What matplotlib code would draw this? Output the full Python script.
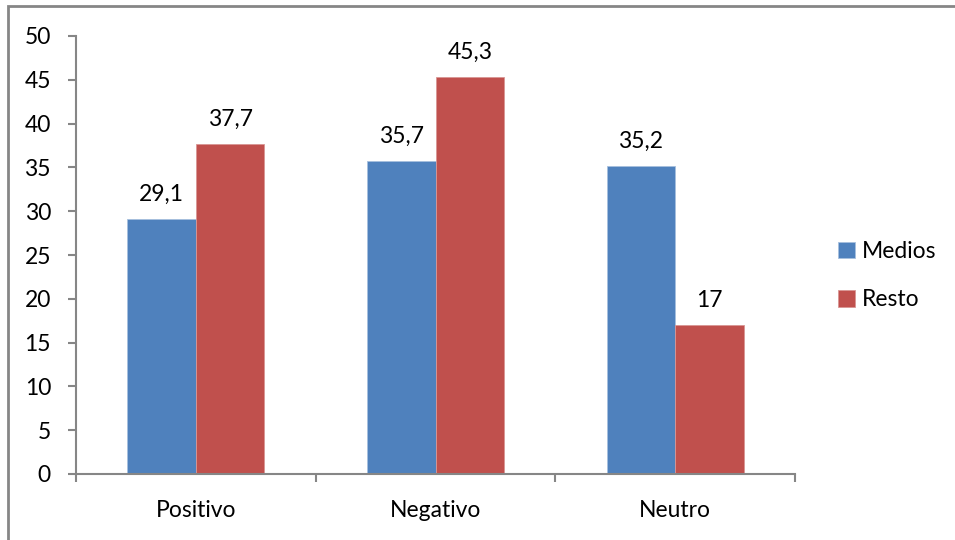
import matplotlib
matplotlib.use("Agg")
import matplotlib.pyplot as plt
from matplotlib.patches import Rectangle
import numpy as np

categories = ["Positivo", "Negativo", "Neutro"]
medios = [29.1, 35.7, 35.2]
resto = [37.7, 45.3, 17]
series_names = ["Medios", "Resto"]
colors = ["#4F81BD", "#C0504D"]
yticks = [0, 5, 10, 15, 20, 25, 30, 35, 40, 45, 50]

plt.rcParams["font.family"] = ["Lato", "DejaVu Sans"]
FS = 16.5

fig = plt.figure(figsize=(9.55, 5.4), dpi=100)
ax = fig.add_axes([76 / 955, 1 - 474 / 540, (795 - 76) / 955, (474 - 36) / 540])

# outer chart frame
fig.patches.append(Rectangle((8 / 955, -0.05), 1.1, 1 - 6 / 540 + 0.05,
                             transform=fig.transFigure, fill=False,
                             edgecolor="#868686", linewidth=2))

x = np.arange(len(categories))
w = 1 / 3.5
b1 = ax.bar(x - w / 2, medios, w, color=colors[0], label=series_names[0],
            edgecolor="#A7C0DE", linewidth=0.6)
b2 = ax.bar(x + w / 2, resto, w, color=colors[1], label=series_names[1],
            edgecolor="#D99694", linewidth=0.6)

def fmt(v):
    s = f"{v:g}"
    return s.replace(".", ",")

for bars, vals in ((b1, medios), (b2, resto)):
    for r, v in zip(bars, vals):
        ax.annotate(fmt(v), (r.get_x() + r.get_width() / 2, v),
                    xytext=(0, 13), textcoords="offset points",
                    ha="center", va="baseline", fontsize=FS)

ax.set_xlim(-0.5, 2.5)
ax.set_ylim(0, 50)
ax.set_yticks(yticks)
ax.set_yticklabels([str(t) for t in yticks], fontsize=FS)
ax.set_xticks(x)
ax.set_xticklabels(categories, fontsize=FS)
ax.set_xticks([-0.5, 0.5, 1.5, 2.5], minor=True)
ax.tick_params(axis="x", which="major", length=0, pad=19)
ax.tick_params(axis="x", which="minor", length=6, color="#868686", width=1.5)
ax.tick_params(axis="y", length=6, color="#868686", width=1.5, pad=12)

for s in ("top", "right"):
    ax.spines[s].set_visible(False)
for s in ("left", "bottom"):
    ax.spines[s].set_color("#868686")
    ax.spines[s].set_linewidth(1.5)

fig.legend(handles=[b1, b2], labels=series_names, loc="upper left",
           bbox_to_anchor=(838 / 955, 1 - 241 / 540), frameon=False,
           borderpad=0, borderaxespad=0,
           fontsize=FS, handlelength=0.74, handleheight=0.74,
           handletextpad=0.3, labelspacing=1.2)

fig.savefig("out.png", dpi=100)
